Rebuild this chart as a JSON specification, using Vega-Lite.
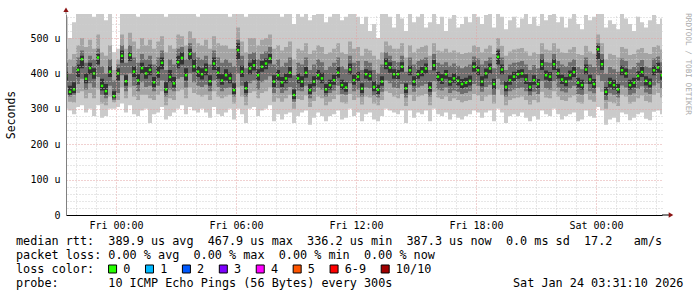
{
"$schema":"https://vega.github.io/schema/vega-lite/v6.json",
"width":596,"height":201,
"autosize":{"type":"none"},
"padding":{"left":66,"top":14,"right":35,"bottom":82},
"background":"white",
"config":{"view":{"stroke":null}},
"datasets":{
"smoke":[
{"t":-2.5,"m":393,"a":300,"b":560,"c":340,"d":470,"e":360,"f":430,"g":380,"h":405},
{"t":-2.3,"m":348,"a":295,"b":500,"c":320,"d":440,"e":335,"f":400,"g":340,"h":365},
{"t":-2.1,"m":355,"a":285,"b":545,"c":318,"d":455,"e":340,"f":420,"g":345,"h":375},
{"t":-1.9,"m":410,"a":305,"b":575,"c":345,"d":480,"e":370,"f":445,"g":390,"h":425},
{"t":-1.7,"m":440,"a":310,"b":590,"c":350,"d":500,"e":385,"f":465,"g":415,"h":450},
{"t":-1.5,"m":385,"a":290,"b":580,"c":330,"d":475,"e":355,"f":430,"g":372,"h":400},
{"t":-1.3,"m":415,"a":300,"b":600,"c":345,"d":495,"e":372,"f":450,"g":398,"h":430},
{"t":-1.1,"m":400,"a":280,"b":560,"c":330,"d":470,"e":360,"f":440,"g":385,"h":415},
{"t":-0.9,"m":445,"a":310,"b":600,"c":355,"d":510,"e":390,"f":470,"g":425,"h":455},
{"t":-0.7,"m":365,"a":275,"b":570,"c":315,"d":460,"e":340,"f":420,"g":352,"h":385},
{"t":-0.5,"m":350,"a":280,"b":550,"c":310,"d":450,"e":330,"f":400,"g":340,"h":370},
{"t":-0.3,"m":405,"a":300,"b":590,"c":335,"d":480,"e":365,"f":440,"g":390,"h":420},
{"t":-0.1,"m":336,"a":300,"b":460,"c":318,"d":410,"e":325,"f":380,"g":330,"h":350},
{"t":0.1,"m":400,"a":305,"b":470,"c":325,"d":440,"e":345,"f":425,"g":380,"h":415},
{"t":0.3,"m":450,"a":315,"b":590,"c":360,"d":510,"e":395,"f":480,"g":430,"h":465},
{"t":0.5,"m":378,"a":290,"b":570,"c":330,"d":470,"e":350,"f":430,"g":365,"h":395},
{"t":0.7,"m":452,"a":310,"b":600,"c":360,"d":515,"e":400,"f":480,"g":435,"h":460},
{"t":0.9,"m":405,"a":285,"b":580,"c":335,"d":490,"e":365,"f":445,"g":390,"h":420},
{"t":1.1,"m":380,"a":280,"b":560,"c":325,"d":470,"e":350,"f":430,"g":368,"h":398},
{"t":1.3,"m":415,"a":295,"b":600,"c":340,"d":500,"e":375,"f":455,"g":400,"h":430},
{"t":1.5,"m":400,"a":300,"b":585,"c":340,"d":480,"e":362,"f":440,"g":385,"h":418},
{"t":1.7,"m":410,"a":260,"b":600,"c":330,"d":495,"e":365,"f":450,"g":395,"h":425},
{"t":1.9,"m":375,"a":285,"b":570,"c":325,"d":470,"e":350,"f":425,"g":362,"h":390},
{"t":2.1,"m":402,"a":290,"b":600,"c":340,"d":490,"e":365,"f":445,"g":388,"h":420},
{"t":2.3,"m":430,"a":305,"b":590,"c":350,"d":505,"e":380,"f":465,"g":412,"h":445},
{"t":2.5,"m":355,"a":270,"b":560,"c":310,"d":460,"e":335,"f":410,"g":345,"h":375},
{"t":2.7,"m":390,"a":280,"b":595,"c":330,"d":480,"e":355,"f":440,"g":375,"h":410},
{"t":2.9,"m":372,"a":290,"b":575,"c":325,"d":470,"e":350,"f":425,"g":360,"h":390},
{"t":3.1,"m":432,"a":300,"b":600,"c":350,"d":510,"e":385,"f":470,"g":415,"h":450},
{"t":3.3,"m":444,"a":310,"b":590,"c":355,"d":505,"e":390,"f":475,"g":425,"h":460},
{"t":3.5,"m":395,"a":285,"b":580,"c":330,"d":480,"e":360,"f":440,"g":380,"h":415},
{"t":3.7,"m":455,"a":305,"b":600,"c":360,"d":520,"e":400,"f":485,"g":438,"h":470},
{"t":3.9,"m":420,"a":295,"b":590,"c":345,"d":500,"e":375,"f":460,"g":405,"h":440},
{"t":4.1,"m":405,"a":290,"b":560,"c":340,"d":485,"e":365,"f":445,"g":390,"h":420},
{"t":4.3,"m":398,"a":300,"b":580,"c":335,"d":480,"e":362,"f":440,"g":383,"h":415},
{"t":4.5,"m":410,"a":290,"b":600,"c":340,"d":495,"e":368,"f":450,"g":395,"h":428},
{"t":4.7,"m":378,"a":275,"b":570,"c":325,"d":470,"e":350,"f":425,"g":365,"h":395},
{"t":4.9,"m":428,"a":305,"b":595,"c":350,"d":505,"e":380,"f":465,"g":410,"h":445},
{"t":5.1,"m":402,"a":285,"b":585,"c":335,"d":485,"e":362,"f":445,"g":385,"h":418},
{"t":5.3,"m":380,"a":280,"b":600,"c":330,"d":480,"e":350,"f":430,"g":368,"h":398},
{"t":5.5,"m":395,"a":290,"b":575,"c":335,"d":480,"e":358,"f":440,"g":380,"h":412},
{"t":5.7,"m":386,"a":300,"b":560,"c":340,"d":470,"e":360,"f":430,"g":372,"h":402},
{"t":5.9,"m":353,"a":270,"b":590,"c":315,"d":470,"e":335,"f":420,"g":342,"h":372},
{"t":6.1,"m":466,"a":300,"b":600,"c":360,"d":530,"e":400,"f":495,"g":440,"h":485},
{"t":6.3,"m":405,"a":285,"b":590,"c":335,"d":490,"e":365,"f":450,"g":390,"h":422},
{"t":6.5,"m":358,"a":260,"b":560,"c":310,"d":460,"e":335,"f":415,"g":345,"h":378},
{"t":6.7,"m":414,"a":300,"b":600,"c":345,"d":500,"e":372,"f":455,"g":398,"h":430},
{"t":6.9,"m":423,"a":305,"b":595,"c":350,"d":500,"e":380,"f":460,"g":408,"h":440},
{"t":7.1,"m":395,"a":280,"b":580,"c":330,"d":480,"e":355,"f":440,"g":380,"h":412},
{"t":7.3,"m":419,"a":295,"b":600,"c":345,"d":495,"e":375,"f":455,"g":405,"h":435},
{"t":7.5,"m":428,"a":300,"b":590,"c":350,"d":500,"e":382,"f":462,"g":412,"h":442},
{"t":7.7,"m":442,"a":310,"b":600,"c":360,"d":510,"e":392,"f":475,"g":428,"h":455},
{"t":7.9,"m":377,"a":265,"b":570,"c":320,"d":470,"e":345,"f":425,"g":362,"h":395},
{"t":8.1,"m":395,"a":285,"b":585,"c":330,"d":480,"e":358,"f":440,"g":380,"h":410},
{"t":8.3,"m":375,"a":270,"b":560,"c":320,"d":465,"e":345,"f":420,"g":362,"h":390},
{"t":8.5,"m":386,"a":285,"b":575,"c":330,"d":475,"e":352,"f":430,"g":372,"h":400},
{"t":8.7,"m":402,"a":290,"b":590,"c":340,"d":490,"e":362,"f":445,"g":388,"h":418},
{"t":8.9,"m":339,"a":260,"b":540,"c":300,"d":440,"e":320,"f":395,"g":328,"h":355},
{"t":9.1,"m":386,"a":280,"b":570,"c":328,"d":470,"e":352,"f":430,"g":372,"h":400},
{"t":9.3,"m":377,"a":290,"b":560,"c":325,"d":465,"e":350,"f":425,"g":362,"h":392},
{"t":9.5,"m":402,"a":295,"b":590,"c":338,"d":485,"e":365,"f":445,"g":388,"h":418},
{"t":9.7,"m":353,"a":255,"b":550,"c":305,"d":455,"e":330,"f":410,"g":342,"h":370},
{"t":9.9,"m":377,"a":275,"b":565,"c":322,"d":465,"e":348,"f":425,"g":364,"h":392},
{"t":10.1,"m":395,"a":290,"b":580,"c":335,"d":480,"e":360,"f":440,"g":382,"h":410},
{"t":10.3,"m":386,"a":280,"b":575,"c":330,"d":475,"e":355,"f":432,"g":372,"h":402},
{"t":10.5,"m":355,"a":265,"b":545,"c":310,"d":455,"e":335,"f":410,"g":345,"h":370},
{"t":10.7,"m":367,"a":280,"b":560,"c":320,"d":460,"e":345,"f":420,"g":355,"h":382},
{"t":10.9,"m":381,"a":285,"b":570,"c":328,"d":470,"e":352,"f":430,"g":368,"h":396},
{"t":11.1,"m":402,"a":295,"b":585,"c":340,"d":485,"e":365,"f":445,"g":388,"h":418},
{"t":11.3,"m":367,"a":270,"b":550,"c":318,"d":460,"e":342,"f":420,"g":355,"h":382},
{"t":11.5,"m":360,"a":275,"b":560,"c":315,"d":455,"e":340,"f":412,"g":348,"h":375},
{"t":11.7,"m":411,"a":300,"b":590,"c":342,"d":490,"e":372,"f":450,"g":398,"h":428},
{"t":11.9,"m":381,"a":280,"b":570,"c":325,"d":470,"e":350,"f":430,"g":368,"h":396},
{"t":12.1,"m":391,"a":290,"b":560,"c":332,"d":475,"e":355,"f":435,"g":378,"h":405},
{"t":12.3,"m":357,"a":265,"b":540,"c":312,"d":450,"e":335,"f":410,"g":345,"h":372},
{"t":12.5,"m":398,"a":285,"b":560,"c":335,"d":470,"e":360,"f":435,"g":385,"h":412},
{"t":12.7,"m":393,"a":290,"b":520,"c":332,"d":465,"e":358,"f":430,"g":380,"h":408},
{"t":12.9,"m":362,"a":270,"b":540,"c":315,"d":450,"e":338,"f":410,"g":350,"h":378},
{"t":13.1,"m":354,"a":265,"b":500,"c":310,"d":440,"e":332,"f":400,"g":342,"h":368},
{"t":13.3,"m":377,"a":280,"b":570,"c":325,"d":460,"e":348,"f":425,"g":365,"h":392},
{"t":13.5,"m":428,"a":300,"b":575,"c":350,"d":490,"e":380,"f":460,"g":412,"h":442},
{"t":13.7,"m":417,"a":295,"b":560,"c":345,"d":480,"e":372,"f":450,"g":402,"h":432},
{"t":13.9,"m":398,"a":290,"b":530,"c":335,"d":470,"e":360,"f":435,"g":385,"h":412},
{"t":14.1,"m":398,"a":285,"b":570,"c":330,"d":470,"e":358,"f":432,"g":384,"h":410},
{"t":14.3,"m":419,"a":295,"b":555,"c":342,"d":485,"e":370,"f":450,"g":405,"h":432},
{"t":14.5,"m":358,"a":260,"b":520,"c":308,"d":445,"e":332,"f":405,"g":345,"h":372},
{"t":14.7,"m":409,"a":295,"b":575,"c":340,"d":480,"e":368,"f":445,"g":395,"h":422},
{"t":14.9,"m":377,"a":275,"b":545,"c":322,"d":460,"e":348,"f":425,"g":365,"h":392},
{"t":15.1,"m":398,"a":290,"b":560,"c":335,"d":470,"e":360,"f":435,"g":385,"h":410},
{"t":15.3,"m":405,"a":285,"b":575,"c":338,"d":475,"e":365,"f":440,"g":392,"h":418},
{"t":15.5,"m":414,"a":295,"b":530,"c":342,"d":480,"e":370,"f":445,"g":400,"h":428},
{"t":15.7,"m":360,"a":265,"b":545,"c":310,"d":450,"e":335,"f":410,"g":348,"h":375},
{"t":15.9,"m":423,"a":300,"b":575,"c":348,"d":485,"e":378,"f":455,"g":408,"h":438},
{"t":16.1,"m":391,"a":285,"b":540,"c":332,"d":465,"e":355,"f":430,"g":378,"h":405},
{"t":16.3,"m":383,"a":280,"b":560,"c":328,"d":462,"e":352,"f":425,"g":370,"h":398},
{"t":16.5,"m":398,"a":290,"b":520,"c":335,"d":470,"e":360,"f":432,"g":385,"h":410},
{"t":16.7,"m":377,"a":270,"b":555,"c":322,"d":460,"e":345,"f":422,"g":365,"h":390},
{"t":16.9,"m":386,"a":285,"b":565,"c":330,"d":465,"e":352,"f":428,"g":374,"h":400},
{"t":17.1,"m":379,"a":275,"b":530,"c":325,"d":460,"e":348,"f":422,"g":366,"h":392},
{"t":17.3,"m":370,"a":270,"b":540,"c":318,"d":455,"e":342,"f":415,"g":358,"h":384},
{"t":17.5,"m":374,"a":280,"b":560,"c":322,"d":458,"e":345,"f":420,"g":362,"h":388},
{"t":17.7,"m":379,"a":285,"b":545,"c":325,"d":460,"e":350,"f":425,"g":366,"h":394},
{"t":17.9,"m":419,"a":295,"b":575,"c":342,"d":480,"e":370,"f":448,"g":405,"h":432},
{"t":18.1,"m":409,"a":290,"b":560,"c":338,"d":475,"e":365,"f":442,"g":395,"h":422},
{"t":18.3,"m":377,"a":275,"b":540,"c":322,"d":460,"e":348,"f":425,"g":364,"h":392},
{"t":18.5,"m":400,"a":290,"b":565,"c":335,"d":470,"e":362,"f":435,"g":386,"h":414},
{"t":18.7,"m":414,"a":295,"b":575,"c":340,"d":480,"e":368,"f":445,"g":400,"h":428},
{"t":18.9,"m":370,"a":265,"b":530,"c":315,"d":455,"e":340,"f":415,"g":356,"h":385},
{"t":19.1,"m":447,"a":300,"b":590,"c":355,"d":500,"e":385,"f":470,"g":425,"h":465},
{"t":19.3,"m":411,"a":290,"b":560,"c":340,"d":478,"e":368,"f":445,"g":398,"h":425},
{"t":19.5,"m":362,"a":260,"b":525,"c":310,"d":450,"e":335,"f":410,"g":350,"h":378},
{"t":19.7,"m":381,"a":280,"b":550,"c":325,"d":462,"e":350,"f":425,"g":368,"h":395},
{"t":19.9,"m":391,"a":285,"b":560,"c":330,"d":468,"e":355,"f":430,"g":378,"h":405},
{"t":20.1,"m":398,"a":280,"b":530,"c":332,"d":470,"e":358,"f":432,"g":385,"h":410},
{"t":20.3,"m":400,"a":290,"b":555,"c":335,"d":472,"e":360,"f":435,"g":388,"h":412},
{"t":20.5,"m":383,"a":275,"b":570,"c":325,"d":462,"e":350,"f":425,"g":370,"h":398},
{"t":20.7,"m":362,"a":265,"b":540,"c":312,"d":450,"e":338,"f":410,"g":350,"h":376},
{"t":20.9,"m":381,"a":280,"b":560,"c":325,"d":460,"e":348,"f":424,"g":368,"h":395},
{"t":21.1,"m":370,"a":270,"b":535,"c":318,"d":455,"e":342,"f":415,"g":358,"h":384},
{"t":21.3,"m":426,"a":295,"b":575,"c":348,"d":485,"e":378,"f":455,"g":410,"h":440},
{"t":21.5,"m":395,"a":285,"b":550,"c":332,"d":468,"e":358,"f":432,"g":382,"h":408},
{"t":21.7,"m":391,"a":280,"b":565,"c":330,"d":465,"e":355,"f":430,"g":378,"h":404},
{"t":21.9,"m":426,"a":300,"b":575,"c":350,"d":485,"e":378,"f":455,"g":410,"h":440},
{"t":22.1,"m":400,"a":285,"b":545,"c":335,"d":470,"e":360,"f":435,"g":386,"h":414},
{"t":22.3,"m":383,"a":270,"b":560,"c":325,"d":460,"e":350,"f":425,"g":370,"h":396},
{"t":22.5,"m":377,"a":280,"b":530,"c":322,"d":458,"e":346,"f":420,"g":364,"h":390},
{"t":22.7,"m":395,"a":285,"b":555,"c":332,"d":468,"e":358,"f":432,"g":382,"h":408},
{"t":22.9,"m":404,"a":290,"b":570,"c":338,"d":475,"e":365,"f":440,"g":390,"h":418},
{"t":23.1,"m":374,"a":265,"b":540,"c":318,"d":455,"e":342,"f":418,"g":360,"h":388},
{"t":23.3,"m":367,"a":270,"b":525,"c":315,"d":452,"e":340,"f":412,"g":355,"h":382},
{"t":23.5,"m":411,"a":295,"b":565,"c":342,"d":478,"e":370,"f":445,"g":398,"h":425},
{"t":23.7,"m":383,"a":280,"b":550,"c":326,"d":462,"e":350,"f":425,"g":370,"h":396},
{"t":23.9,"m":370,"a":275,"b":560,"c":320,"d":456,"e":344,"f":418,"g":358,"h":384},
{"t":24.1,"m":468,"a":305,"b":590,"c":360,"d":510,"e":395,"f":485,"g":440,"h":480},
{"t":24.3,"m":426,"a":295,"b":575,"c":348,"d":485,"e":378,"f":455,"g":410,"h":440},
{"t":24.5,"m":348,"a":255,"b":530,"c":300,"d":440,"e":325,"f":400,"g":338,"h":362},
{"t":24.7,"m":374,"a":270,"b":550,"c":320,"d":456,"e":344,"f":418,"g":360,"h":388},
{"t":24.9,"m":367,"a":275,"b":540,"c":316,"d":452,"e":340,"f":412,"g":355,"h":382},
{"t":25.1,"m":355,"a":262,"b":525,"c":308,"d":445,"e":332,"f":405,"g":344,"h":370},
{"t":25.3,"m":409,"a":290,"b":570,"c":340,"d":475,"e":366,"f":442,"g":395,"h":422},
{"t":25.5,"m":400,"a":285,"b":555,"c":335,"d":470,"e":360,"f":435,"g":388,"h":414},
{"t":25.7,"m":367,"a":268,"b":540,"c":315,"d":452,"e":340,"f":412,"g":355,"h":382},
{"t":25.9,"m":374,"a":275,"b":520,"c":320,"d":455,"e":344,"f":418,"g":360,"h":388},
{"t":26.1,"m":393,"a":285,"b":560,"c":330,"d":468,"e":356,"f":430,"g":380,"h":406},
{"t":26.3,"m":404,"a":290,"b":545,"c":338,"d":472,"e":364,"f":438,"g":390,"h":418},
{"t":26.5,"m":379,"a":272,"b":530,"c":322,"d":458,"e":346,"f":420,"g":366,"h":392},
{"t":26.7,"m":372,"a":268,"b":550,"c":318,"d":455,"e":342,"f":416,"g":360,"h":386},
{"t":26.9,"m":409,"a":292,"b":565,"c":340,"d":475,"e":366,"f":442,"g":395,"h":422},
{"t":27.1,"m":417,"a":295,"b":540,"c":345,"d":480,"e":372,"f":448,"g":402,"h":430},
{"t":27.3,"m":395,"a":285,"b":555,"c":332,"d":468,"e":358,"f":432,"g":382,"h":408}
],
"txt":[
{"r":0,"c":0,"s":"median rtt:"},{"r":0,"c":13,"s":"389.9 us avg"},{"r":0,"c":27,"s":"467.9 us max"},{"r":0,"c":41,"s":"336.2 us min"},{"r":0,"c":55,"s":"387.3 us now"},{"r":0,"c":69,"s":"0.0 ms sd"},{"r":0,"c":80,"s":"17.2"},{"r":0,"c":87,"s":"am/s"},
{"r":1,"c":0,"s":"packet loss:"},{"r":1,"c":13,"s":"0.00 % avg"},{"r":1,"c":25,"s":"0.00 % max"},{"r":1,"c":37,"s":"0.00 % min"},{"r":1,"c":49,"s":"0.00 % now"},
{"r":2,"c":0,"s":"loss color:"},
{"r":3,"c":0,"s":"probe:"},{"r":3,"c":13,"s":"10 ICMP Echo Pings (56 Bytes) every 300s"},{"r":3,"c":70,"s":"Sat Jan 24 03:31:10 2026"}
],
"loss":[
{"k":"0","c":13.6,"lc":15.1},{"k":"1","c":18.8,"lc":20.3},{"k":"2","c":24.0,"lc":25.5},{"k":"3","c":29.2,"lc":30.7},{"k":"4","c":34.4,"lc":35.9},{"k":"5","c":39.6,"lc":41.1},{"k":"6-9","c":44.8,"lc":46.3},{"k":"10/10","c":52.0,"lc":53.5}
]
},
"layer":[
{
"data":{"name":"smoke"},
"layer":[
{"mark":{"type":"area","interpolate":"step","color":"#cacaca","clip":true},
 "encoding":{
  "x":{"field":"t","type":"quantitative","title":null,"scale":{"domain":[-2.5,27.3],"nice":false,"zero":false},
   "axis":{"orient":"bottom","values":[0,6,12,18,24],"labelExpr":"(datum.value < 24 ? 'Fri ' : 'Sat ') + (datum.value % 24 < 10 ? '0' : '') + (datum.value % 24) + ':00'","grid":true,"gridColor":"#e3a3a3","gridDash":[1,2],"ticks":false,"labelFont":"DejaVu Sans Mono","labelFontSize":10,"labelColor":"#000","labelPadding":5,"labelFlush":false,"labelOverlap":false,"domainColor":"#000","zindex":1}},
  "y":{"field":"a","type":"quantitative","title":"Seconds","scale":{"domain":[0,568],"nice":false,"zero":true},
   "axis":{"orient":"left","values":[0,100,200,300,400,500],"labelExpr":"datum.value == 0 ? '0' : datum.value + ' u'","grid":true,"gridColor":"#e3a3a3","gridDash":[1,2],"ticks":false,"labelFont":"DejaVu Sans Mono","labelFontSize":10,"labelColor":"#000","labelPadding":6,"labelOverlap":false,"domainColor":"#808080","titleFont":"DejaVu Sans Mono","titleFontSize":11.5,"titleFontWeight":"normal","titleColor":"#000","titlePadding":13,"zindex":1}},
  "y2":{"field":"b"}}},
{"mark":{"type":"area","interpolate":"step","color":"#a4a4a4","clip":true},
 "encoding":{
  "x":{"field":"t","type":"quantitative","title":null,
   "axis":{"orient":"top","values":[-2,-1,1,2,3,4,5,7,8,9,10,11,13,14,15,16,17,19,20,21,22,23,25,26,27],"grid":true,"labels":false,"ticks":false,"domain":false,"gridColor":"#cfcfcf","gridDash":[1,2],"zindex":1}},
  "y":{"field":"c","type":"quantitative","title":null,
   "axis":{"orient":"right","values":[20,40,60,80,120,140,160,180,220,240,260,280,320,340,360,380,420,440,460,480,520,540,560],"grid":true,"labels":false,"ticks":false,"domain":false,"gridColor":"#cfcfcf","gridDash":[1,2],"zindex":1}},
  "y2":{"field":"d"}}},
{"mark":{"type":"area","interpolate":"step","color":"#6e6e6e","clip":true},
 "encoding":{"x":{"field":"t","type":"quantitative","axis":null},"y":{"field":"e","type":"quantitative","axis":null},"y2":{"field":"f"}}},
{"mark":{"type":"area","interpolate":"step","color":"#323232","clip":true},
 "encoding":{"x":{"field":"t","type":"quantitative","axis":null},"y":{"field":"g","type":"quantitative","axis":null},"y2":{"field":"h"}}},
{"mark":{"type":"point","shape":"square","filled":true,"color":"#26ff00","size":6,"opacity":1,"clip":true},
 "encoding":{"x":{"field":"t","type":"quantitative","axis":null},"y":{"field":"m","type":"quantitative","axis":null}}},
{"data":{"values":[{}]},"mark":{"type":"rule","color":"#808080","clip":false},
 "encoding":{"x":{"datum":-2.5,"type":"quantitative","axis":null},"y":{"datum":568,"type":"quantitative","axis":null},"y2":{"datum":578}}},
{"data":{"values":[{}]},"mark":{"type":"rule","color":"#000","clip":false},
 "encoding":{"x":{"datum":27.3,"type":"quantitative","axis":null},"x2":{"datum":27.7},"y":{"datum":0,"type":"quantitative","axis":null}}},
{"data":{"values":[{}]},"mark":{"type":"point","shape":"triangle-up","filled":true,"color":"#8b1414","size":28,"opacity":1,"clip":false},
 "encoding":{"x":{"datum":-2.5,"type":"quantitative","axis":null},"y":{"datum":580,"type":"quantitative","axis":null}}},
{"data":{"values":[{}]},"mark":{"type":"point","shape":"triangle-right","filled":true,"color":"#8b1414","size":28,"opacity":1,"clip":false},
 "encoding":{"x":{"datum":27.75,"type":"quantitative","axis":null},"y":{"datum":0,"type":"quantitative","axis":null}}}
],
"resolve":{"axis":{"x":"independent","y":"independent"}}
},
{
"layer":[
{"data":{"name":"txt"},"mark":{"type":"text","align":"left","baseline":"middle","font":"DejaVu Sans Mono","fontSize":11.8,"color":"#000"},
 "encoding":{"x":{"field":"c","type":"quantitative","scale":{"domain":[7.04,90.99],"nice":false,"zero":false},"axis":null},
  "y":{"field":"r","type":"quantitative","scale":{"domain":[-16.214,-1.857],"reverse":true,"nice":false,"zero":false},"axis":null},
  "text":{"field":"s"}}},
{"data":{"name":"loss"},"mark":{"type":"point","shape":"square","filled":true,"size":64,"stroke":"#000","strokeWidth":1,"opacity":1},
 "encoding":{"x":{"field":"c","type":"quantitative","axis":null},"y":{"datum":2,"type":"quantitative","axis":null},
  "fill":{"field":"k","type":"nominal","legend":null,"scale":{"domain":["0","1","2","3","4","5","6-9","10/10"],"range":["#26ff00","#00b8ff","#0059ff","#7e00ff","#ff00ff","#ff5500","#ff0000","#a10000"]}}}},
{"data":{"name":"loss"},"mark":{"type":"text","align":"left","baseline":"middle","font":"DejaVu Sans Mono","fontSize":11.8,"color":"#000"},
 "encoding":{"x":{"field":"lc","type":"quantitative","axis":null},"y":{"datum":2,"type":"quantitative","axis":null},"text":{"field":"k"}}},
{"data":{"values":[{"s":"RRDTOOL / TOBI OETIKER"}]},"mark":{"type":"text","angle":90,"align":"center","baseline":"middle","font":"DejaVu Sans Mono","fontSize":7.7,"color":"#a8a8a8"},
 "encoding":{"x":{"datum":94.65,"type":"quantitative","axis":null},"y":{"datum":-12.64,"type":"quantitative","axis":null},"text":{"field":"s"}}}
]
}
],
"resolve":{"scale":{"x":"independent","y":"independent"}}
}
